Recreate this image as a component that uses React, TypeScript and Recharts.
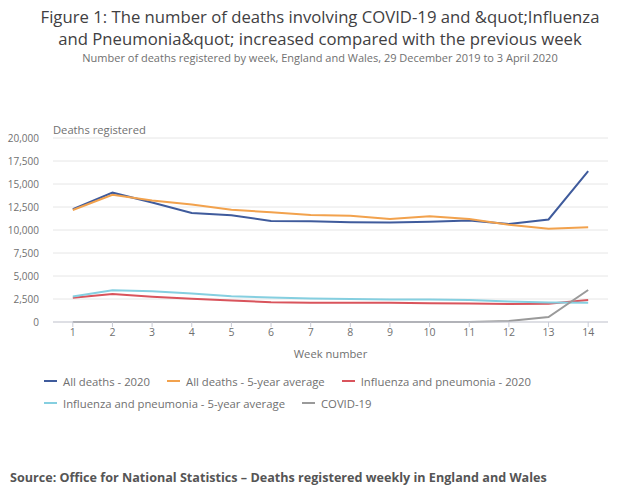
import { CartesianGrid, Label, Line, LineChart, XAxis, YAxis } from "recharts"

const weeks = [1, 2, 3, 4, 5, 6, 7, 8, 9, 10, 11, 12, 13, 14]
const allDeaths2020 = [12254, 14058, 12990, 11856, 11612, 10986, 10944, 10841, 10816, 10895, 11019, 10645, 11141, 16387]
const allDeaths5yr = [12175, 13822, 13216, 12760, 12206, 11925, 11627, 11548, 11183, 11498, 11205, 10573, 10130, 10305]
const flu2020 = [2630, 3030, 2740, 2520, 2340, 2160, 2090, 2090, 2080, 2050, 2020, 1950, 1980, 2380]
const flu5yr = [2780, 3460, 3350, 3100, 2810, 2670, 2560, 2490, 2450, 2450, 2380, 2240, 2130, 2090]
const covid = [0, 0, 0, 0, 0, 0, 0, 0, 0, 0, 5, 103, 539, 3475]
const yTicks = [0, 2500, 5000, 7500, 10000, 12500, 15000, 17500, 20000]

const series = [
    { key: "all2020", name: "All deaths - 2020", color: "#3f5b9c" },
    { key: "all5yr", name: "All deaths - 5-year average", color: "#f2a24d" },
    { key: "flu2020", name: "Influenza and pneumonia - 2020", color: "#d9545c" },
    { key: "flu5yr", name: "Influenza and pneumonia - 5-year average", color: "#85cfe0" },
    { key: "covid", name: "COVID-19", color: "#9a9a9a" },
]

const data = weeks.map((w, i) => ({
    week: w,
    all2020: allDeaths2020[i],
    all5yr: allDeaths5yr[i],
    flu2020: flu2020[i],
    flu5yr: flu5yr[i],
    covid: covid[i],
}))

const font = "'Open Sans', sans-serif"
const grey = "#707070"

function LegendItem({ name, color }: { name: string; color: string }) {
    return (
        <div style={{ display: "flex", alignItems: "center", marginRight: 17, height: 22 }}>
            <span style={{ width: 13, height: 2, background: color, marginRight: 6 }} />
            <span>{name}</span>
        </div>
    )
}

export default function App() {
    return (
        <div style={{ position: "absolute", left: 0, top: 0, width: 640, height: 502, background: "#fff", fontFamily: font, overflow: "hidden" }}>
            <div style={{ position: "absolute", top: 6, left: 0, width: 640, textAlign: "center", fontSize: 16.7, lineHeight: "22px", color: "#414042" }}>
                Figure 1: The number of deaths involving COVID-19 and &amp;quot;Influenza
                <br />
                and Pneumonia&amp;quot; increased compared with the previous week
            </div>
            <div style={{ position: "absolute", top: 50, left: 0, width: 640, textAlign: "center", fontSize: 11, color: grey }}>
                Number of deaths registered by week, England and Wales, 29 December 2019 to 3 April 2020
            </div>
            <div style={{ position: "absolute", top: 122, left: 53, fontSize: 11.2, color: grey }}>Deaths registered</div>
            <div style={{ position: "absolute", top: 0, left: 0 }}>
                <LineChart width={640} height={370} data={data} margin={{ top: 138, right: 32, left: 0, bottom: 18 }}>
                    <CartesianGrid vertical={false} stroke="#e6e6e6" />
                    <XAxis
                        dataKey="week"
                        type="number"
                        domain={[0.5, 14.5]}
                        ticks={weeks}
                        height={30}
                        stroke="#c9cbd6"
                        tickSize={5}
                        tick={{ fill: grey, fontSize: 10.5, fontFamily: font }}
                        interval={0}
                    >
                        <Label value="Week number" position="insideBottom" offset={-6} fill={grey} fontSize={11.2} fontFamily={font} />
                    </XAxis>
                    <YAxis
                        domain={[0, 20000]}
                        ticks={yTicks}
                        width={53}
                        axisLine={false}
                        tickLine={false}
                        tickMargin={8}
                        tick={{ fill: grey, fontSize: 10, fontFamily: font }}
                        tickFormatter={(v: number) => v.toLocaleString("en-GB")}
                    />
                    {series.map((s) => (
                        <Line key={s.key} dataKey={s.key} name={s.name} stroke={s.color} strokeWidth={2} dot={false} isAnimationActive={false} />
                    ))}
                </LineChart>
            </div>
            <div style={{ position: "absolute", top: 370, left: 44, width: 560, display: "flex", flexWrap: "wrap", fontSize: 11.3, color: grey }}>
                {series.map((s) => (
                    <LegendItem key={s.key} name={s.name} color={s.color} />
                ))}
            </div>
            <div style={{ position: "absolute", top: 469, left: 10, fontSize: 12.6, fontWeight: 700, color: "#555" }}>
                Source: Office for National Statistics – Deaths registered weekly in England and Wales
            </div>
        </div>
    )
}
